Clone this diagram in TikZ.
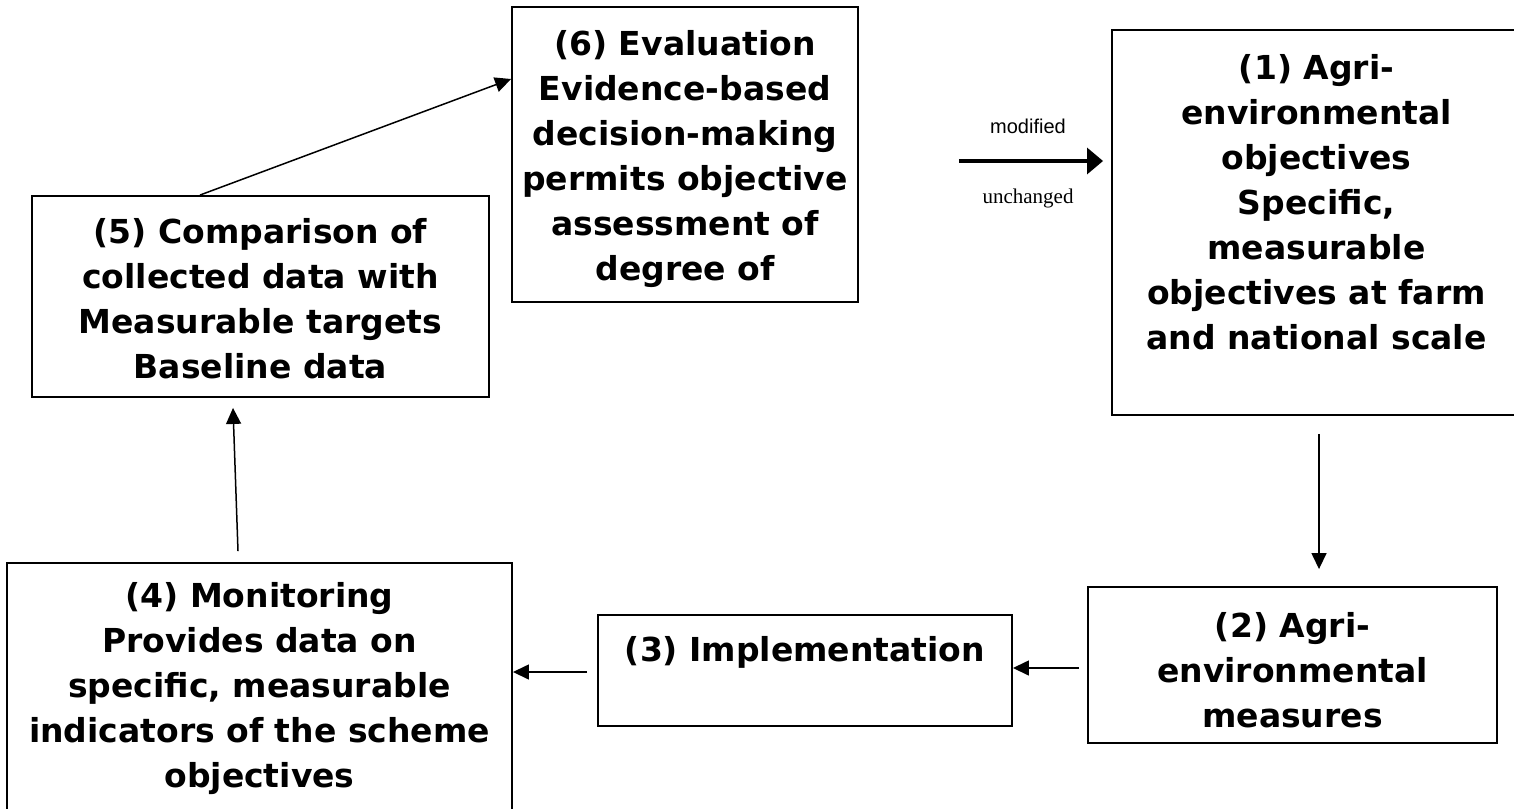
\documentclass[tikz,border=0pt]{standalone}
\usepackage{fontspec}
\setmainfont{DejaVu Sans}
\newfontfamily\arialfont{Liberation Sans}
\newfontfamily\timesfont{Liberation Serif}
\usepackage{tikz}
\usetikzlibrary{arrows.meta}
\usetikzlibrary{positioning}
\tikzstyle{BoxStep}=[rectangle,draw=black,line width=1.9pt,inner sep=0pt]
\tikzstyle{TextStep}=[align=center,inner sep=0pt,outer sep=0pt,
font=\fontsize{33}{45}\selectfont\bfseries]
\tikzstyle{EdgeStep}=[line width=1.5pt,-{Triangle[length=16pt,width=15pt]}]
\tikzstyle{EdgeChoice}=[line width=3.3pt,-{Triangle[length=16pt,width=26pt]}]

\begin{document}
\begin{tikzpicture}[x=1pt,y=-1pt]
        \useasboundingbox(0,0)rectangle(1514,808);
        \clip(0,0)rectangle(1514,808);
        % boxes
        \node[BoxStep,minimum width=346pt,minimum height=295pt](b6)at(685,154.5){};
        \node[BoxStep,minimum width=409pt,minimum height=385pt](b1)at(1316.5,222.5){};
        \node[BoxStep,minimum width=457pt,minimum height=201pt](b5)at(260.5,296.5){};
        \node[BoxStep,minimum width=505pt,minimum height=257pt](b4)at(259.5,691.5){};
        \node[BoxStep,minimum width=414pt,minimum height=111pt](b3)at(805,670.5){};
        \node[BoxStep,minimum width=409pt,minimum height=156pt](b2)at(1292.5,665){};
        % texts
        \node[TextStep,below=24pt of b6.north](t6){(6) Evaluation\\Evidence-based\\decision-making\\permits objective\\assessment of\\degree of};
        \node[TextStep,below=25pt of b1.north](t1){(1) Agri-\\environmental\\objectives\\Specific,\\measurable\\objectives at farm\\and national scale};
        \node[TextStep,below=23pt of b5.north](t5){(5) Comparison of\\collected data with\\Measurable targets\\Baseline data};
        \node[TextStep,below=20pt of b4.north](t4){(4) Monitoring\\Provides data on\\specific, measurable\\indicators of the scheme\\objectives};
        \node[TextStep,below=22pt of b3.north](t3){(3) Implementation};
        \node[TextStep,below=26pt of b2.north](t2){(2) Agri-\\environmental\\measures};
        % choice labels
        \node[anchor=base,inner sep=0pt,font=\arialfont\fontsize{20}{24}\selectfont](lmod)at(1028,133){modified};
        \node[anchor=base,inner sep=0pt,font=\timesfont\fontsize{21}{25}\selectfont](lunch)at(1028,203){unchanged};
        % arrows
        \draw[EdgeChoice]([xshift=100pt,yshift=-6.5pt]b6.east)--([xshift=-8pt,yshift=61.5pt]b1.west);
        \draw[EdgeStep]([xshift=2.5pt,yshift=-18pt]b1.south)--([xshift=26.5pt,yshift=17pt]b2.north);
        \draw[EdgeStep]([xshift=-8pt,yshift=-3pt]b2.west)--([yshift=2.5pt]b3.east);
        \draw[EdgeStep]([xshift=-10pt,yshift=-1.5pt]b3.west)--([yshift=19.5pt]b4.east);
        \draw[EdgeStep]([xshift=-21.5pt,yshift=11pt]b4.north)--([xshift=-27.5pt,yshift=-10pt]b5.south);
        \draw[EdgeStep]([xshift=-60.5pt]b5.north)--([yshift=75.5pt]b6.west);
    \end{tikzpicture}
\end{document}
